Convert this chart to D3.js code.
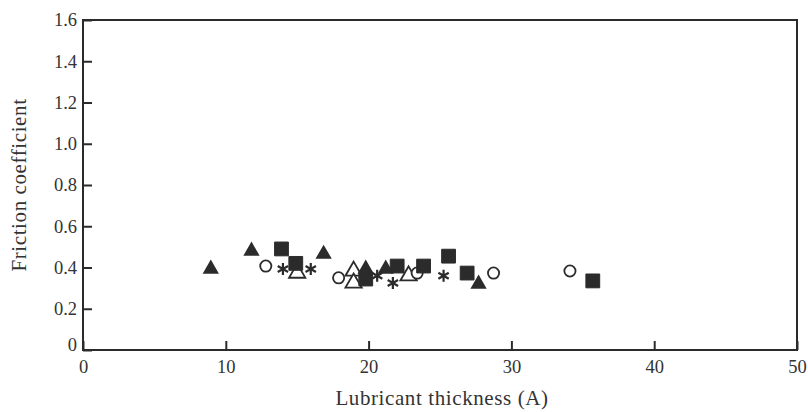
<!DOCTYPE html>
<html>
<head>
<meta charset="utf-8">
<script src="https://cdn.jsdelivr.net/npm/d3@7"></script>
<style>
  body { margin: 0; background: #fff; }
  text { font-family: "Liberation Serif", "DejaVu Serif", serif; fill: #333; }
</style>
</head>
<body>
<div id="chart"></div>
<script>
// friction coefficient vs lubricant thickness, one array pair per marker type
const filledTriX = [8.95, 11.8, 16.85, 19.8, 21.2, 27.7];
const filledTriY = [0.393, 0.48, 0.465, 0.393, 0.393, 0.32];
const filledSqX = [13.9, 14.9, 19.8, 22.0, 23.85, 25.6, 26.9, 35.7];
const filledSqY = [0.49, 0.42, 0.344, 0.407, 0.407, 0.455, 0.373, 0.335];
const openCircX = [12.8, 17.9, 23.4, 28.75, 34.1];
const openCircY = [0.407, 0.35, 0.373, 0.373, 0.383];
const openTriX = [15.0, 18.95, 18.95, 22.8];
const openTriY = [0.373, 0.383, 0.325, 0.36];
const starX = [14.0, 15.95, 20.6, 21.7, 25.25];
const starY = [0.393, 0.393, 0.36, 0.325, 0.36];

const xTicks = [0, 10, 20, 30, 40, 50];
const yTicks = [0, 0.2, 0.4, 0.6, 0.8, 1.0, 1.2, 1.4, 1.6];
const yTickLabels = ["0", "0.2", "0.4", "0.6", "0.8", "1.0", "1.2", "1.4", "1.6"];

const W = 808, H = 412;
const margin = {left: 83, right: 11, top: 20, bottom: 62};
const plotW = W - margin.left - margin.right;
const plotH = H - margin.top - margin.bottom;
const ink = "#2b2b2b";
const serif = '"Liberation Serif", "DejaVu Serif", serif';

const svg = d3.select("#chart").append("svg")
    .attr("width", W)
    .attr("height", H);
const g = svg.append("g")
    .attr("transform", `translate(${margin.left},${margin.top})`);

const x = d3.scaleLinear().domain([0, 50]).range([0, plotW]);
const y = d3.scaleLinear().domain([0, 1.6]).range([plotH, 0]);

// frame
g.append("rect")
    .attr("width", plotW).attr("height", plotH)
    .attr("fill", "none").attr("stroke", ink).attr("stroke-width", 2);

// y axis, ticks pointing inward
const yAxis = g.append("g")
    .call(d3.axisLeft(y).tickValues(yTicks)
        .tickFormat((d, i) => yTickLabels[i])
        .tickSizeInner(-9).tickSizeOuter(0).tickPadding(6));
yAxis.select(".domain").remove();
yAxis.selectAll("line").attr("stroke", ink).attr("stroke-width", 2);
yAxis.selectAll("text")
    .style("font-family", serif).style("font-size", "18.5px").style("fill", "#333");
yAxis.selectAll(".tick").filter(d => d === 0).select("text").attr("dy", "0.05em");

// x axis, ticks pointing up into the plot
const xAxis = g.append("g")
    .attr("transform", `translate(0,${plotH})`)
    .call(d3.axisBottom(x).tickValues(xTicks)
        .tickSizeInner(-9).tickSizeOuter(0).tickPadding(10));
xAxis.select(".domain").remove();
xAxis.selectAll("line").attr("stroke", ink).attr("stroke-width", 2);
xAxis.selectAll("text")
    .style("font-family", serif).style("font-size", "18.5px").style("fill", "#333");

// axis titles
svg.append("text")
    .attr("transform", `translate(26,${margin.top + plotH / 2}) rotate(-90)`)
    .attr("text-anchor", "middle")
    .style("font-size", "21px")
    .attr("letter-spacing", 0.6)
    .text("Friction coefficient");
svg.append("text")
    .attr("x", margin.left + plotW / 2 + 2)
    .attr("y", 405)
    .attr("text-anchor", "middle")
    .style("font-size", "21px")
    .attr("letter-spacing", 0.6)
    .text("Lubricant thickness (A)");

function pts(xs, ys) { return xs.map((v, i) => ({x: v, y: ys[i]})); }

const triPath = d3.symbol().type(d3.symbolTriangle).size(115)();
const sqPath = d3.symbol().type(d3.symbolSquare).size(190)();

// open triangles
g.selectAll(".otri").data(pts(openTriX, openTriY)).enter().append("path")
    .attr("d", triPath)
    .attr("transform", d => `translate(${x(d.x)},${y(d.y)})`)
    .attr("fill", "#fff").attr("stroke", ink).attr("stroke-width", 1.8);

// open circles
g.selectAll(".ocirc").data(pts(openCircX, openCircY)).enter().append("circle")
    .attr("cx", d => x(d.x)).attr("cy", d => y(d.y)).attr("r", 5.6)
    .attr("fill", "#fff").attr("stroke", ink).attr("stroke-width", 1.8);

// filled squares
g.selectAll(".sq").data(pts(filledSqX, filledSqY)).enter().append("path")
    .attr("d", sqPath)
    .attr("transform", d => `translate(${x(d.x)},${y(d.y)})`)
    .attr("fill", ink).attr("stroke", ink).attr("stroke-width", 1)
    .attr("stroke-linejoin", "round");

// filled triangles
g.selectAll(".tri").data(pts(filledTriX, filledTriY)).enter().append("path")
    .attr("d", triPath)
    .attr("transform", d => `translate(${x(d.x)},${y(d.y)})`)
    .attr("fill", ink);

// asterisks
const starPath = d3.range(3).map(k => {
    const a = Math.PI / 2 + k * Math.PI / 3, r = 6;
    return `M${r * Math.cos(a)},${-r * Math.sin(a)}L${-r * Math.cos(a)},${r * Math.sin(a)}`;
}).join("");
g.selectAll(".star").data(pts(starX, starY)).enter().append("path")
    .attr("d", starPath)
    .attr("transform", d => `translate(${x(d.x)},${y(d.y)})`)
    .attr("fill", "none").attr("stroke", ink).attr("stroke-width", 2.2);
</script>
</body>
</html>
